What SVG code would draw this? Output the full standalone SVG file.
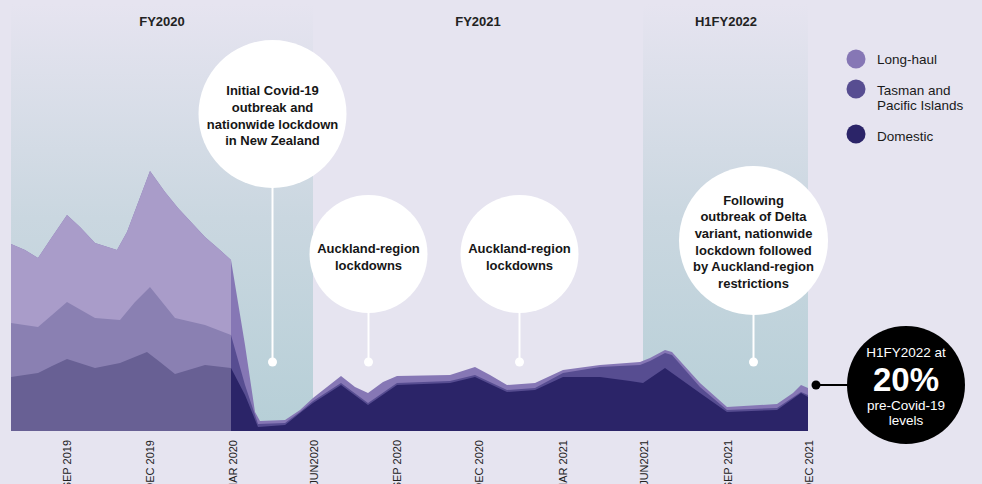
<svg xmlns="http://www.w3.org/2000/svg" xmlns:xlink="http://www.w3.org/1999/xlink" width="982" height="484" viewBox="0 0 982 484">
<style>
text{font-family:"Liberation Sans",Arial,sans-serif;}
.bt{font-size:13px;font-weight:bold;fill:#161616;text-anchor:middle;}
.per{font-size:13px;font-weight:bold;fill:#222;text-anchor:middle;}
.ax{font-size:11px;fill:#222;text-anchor:end;}
.lg{font-size:13.5px;fill:#1a1a1a;}
.wt{fill:#fff;text-anchor:middle;}
.con{stroke:#fff;stroke-width:2;fill:none;}
</style>
<defs>
<linearGradient id="band" x1="0" y1="0" x2="0" y2="1">
<stop offset="0" stop-color="#e6e4f0"/>
<stop offset="0.5" stop-color="#cad7e0"/>
<stop offset="1" stop-color="#b6cfd7"/>
</linearGradient>
<clipPath id="pre"><rect x="0" y="0" width="231" height="484"/></clipPath>
<path id="lh" d="M11,431 L11,244 L25,250 L38,258 L52,237 L67,215 L80,227 L95,243 L117,250 L127,232 L150,171 L165,192 L178,208 L205,237 L220,250 L231,260 L245,345 L255,412 L260,421 L285,420 L300,410 L313,398 L341,376 L355,387 L368,393 L383,382 L397,376 L450,375 L475,367 L490,375 L507,385 L535,383 L563,370 L600,365 L640,362 L650,358 L665,350 L672,352 L700,383 L727,407 L760,405 L777,404 L793,393 L801,385 L808,388 L808,431 Z"/>
<path id="ts" d="M11,431 L11,323 L38,327 L52,315 L67,302 L95,318 L120,320 L135,302 L150,287 L175,318 L205,325 L231,335 L245,385 L258,424 L285,423 L300,412 L313,401 L341,383 L368,403 L397,383 L450,381 L475,375 L507,390 L535,388 L563,373 L600,367 L640,365 L650,361 L665,353 L672,355 L700,387 L727,410 L777,408 L801,392 L808,395 L808,431 Z"/>
<path id="dm" d="M11,431 L11,377 L38,373 L52,366 L67,359 L95,368 L120,363 L147,352 L160,362 L175,374 L205,365 L231,368 L245,395 L258,427 L285,425 L300,413 L313,403 L341,385 L368,405 L397,385 L450,383 L475,377 L507,392 L535,390 L563,377 L600,377 L630,381 L643,383 L665,368 L700,393 L727,412 L777,410 L801,393 L808,397 L808,431 Z"/>
</defs>
<rect width="982" height="484" fill="#e6e4f0"/>
<g id="bands">
<rect x="11" y="4" width="302" height="427" fill="url(#band)"/>
<rect x="643" y="4" width="165" height="427" fill="url(#band)"/>
</g>
<g id="chart">
<use xlink:href="#lh" fill="#8677b5"/>
<use xlink:href="#ts" fill="#574d91"/>
<use xlink:href="#dm" fill="#2b2468"/>
<g clip-path="url(#pre)">
<use xlink:href="#lh" fill="#a99cc9"/>
<use xlink:href="#ts" fill="#8a80b2"/>
<use xlink:href="#dm" fill="#686094"/>
</g>
</g>
<g id="periods">
<text class="per" x="162" y="26">FY2020</text>
<text class="per" x="478" y="26">FY2021</text>
<text class="per" x="726" y="26">H1FY2022</text>
</g>
<g id="axis">
<text class="ax" transform="translate(70.7,440) rotate(-90)">SEP 2019</text>
<text class="ax" transform="translate(154,440) rotate(-90)">DEC 2019</text>
<text class="ax" transform="translate(236.5,440) rotate(-90)">MAR 2020</text>
<text class="ax" transform="translate(318.3,440) rotate(-90)">JUN2020</text>
<text class="ax" transform="translate(400.7,440) rotate(-90)">SEP 2020</text>
<text class="ax" transform="translate(483,440) rotate(-90)">DEC 2020</text>
<text class="ax" transform="translate(567,440) rotate(-90)">MAR 2021</text>
<text class="ax" transform="translate(648,440) rotate(-90)">JUN2021</text>
<text class="ax" transform="translate(731.7,440) rotate(-90)">SEP 2021</text>
<text class="ax" transform="translate(813,440) rotate(-90)">DEC 2021</text>
</g>
<g id="connectors">
<line class="con" x1="272.5" y1="186" x2="272.5" y2="362"/>
<line class="con" x1="368.5" y1="310" x2="368.5" y2="362"/>
<line class="con" x1="519.5" y1="310" x2="519.5" y2="362"/>
<line class="con" x1="753.5" y1="312" x2="753.5" y2="362"/>
<line x1="816" y1="385" x2="850" y2="385" stroke="#000" stroke-width="2"/>
<circle cx="272.5" cy="362" r="4.5" fill="#fff"/>
<circle cx="368.5" cy="362" r="4.5" fill="#fff"/>
<circle cx="519.5" cy="362" r="4.5" fill="#fff"/>
<circle cx="753.5" cy="362" r="4.5" fill="#fff"/>
<circle cx="816" cy="385" r="4.5" fill="#000"/>
</g>
<g id="covid-initial">
<circle cx="272.5" cy="114" r="74" fill="#fff"/>
<text class="bt" x="272.5" y="94.5">Initial Covid-19</text>
<text class="bt" x="272.5" y="111.5">outbreak and</text>
<text class="bt" x="272.5" y="128.5">nationwide lockdown</text>
<text class="bt" x="272.5" y="144.5">in New Zealand</text>
</g>
<g id="auckland-1">
<circle cx="368.5" cy="254" r="59" fill="#fff"/>
<text class="bt" x="368.5" y="252.5">Auckland-region</text>
<text class="bt" x="368.5" y="269.5">lockdowns</text>
</g>
<g id="auckland-2">
<circle cx="519.5" cy="254" r="59" fill="#fff"/>
<text class="bt" x="519.5" y="252.5">Auckland-region</text>
<text class="bt" x="519.5" y="269.5">lockdowns</text>
</g>
<g id="delta">
<circle cx="753.5" cy="240.5" r="74.5" fill="#fff"/>
<text class="bt" x="753.5" y="204.5">Following</text>
<text class="bt" x="753.5" y="221">outbreak of Delta</text>
<text class="bt" x="753.5" y="238">variant, nationwide</text>
<text class="bt" x="753.5" y="254.5">lockdown followed</text>
<text class="bt" x="753.5" y="271">by Auckland-region</text>
<text class="bt" x="753.5" y="288">restrictions</text>
</g>
<g id="h1fy2022">
<circle cx="906" cy="385" r="59" fill="#000"/>
<text class="wt" x="906" y="357" font-size="13.5">H1FY2022 at</text>
<text class="wt" x="906" y="391" font-size="33" font-weight="bold">20%</text>
<text class="wt" x="906" y="409.5" font-size="13.5">pre-Covid-19</text>
<text class="wt" x="906" y="424.5" font-size="13.5">levels</text>
</g>
<g id="legend">
<circle cx="856" cy="59" r="9.5" fill="#8677b5"/>
<text class="lg" x="877" y="64">Long-haul</text>
<circle cx="856" cy="89" r="9.5" fill="#574d91"/>
<text class="lg" x="877" y="94.5">Tasman and</text>
<text class="lg" x="877" y="110">Pacific Islands</text>
<circle cx="856" cy="134" r="9.5" fill="#2b2468"/>
<text class="lg" x="877" y="140.5">Domestic</text>
</g>
</svg>
